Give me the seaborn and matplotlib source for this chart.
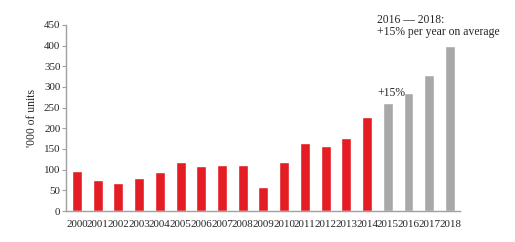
import pandas as pd
import seaborn as sns
import matplotlib.pyplot as plt

years = [str(y) for y in range(2000, 2019)]
units = [97, 75, 67, 79, 94, 118, 109, 111, 111, 57,
         118, 164, 157, 176, 227, 261, 286, 329, 400]
forecast_from = "2015"

red = "#e41d24"
grey = "#a8a8a8"

df = pd.DataFrame({"year": years, "units": units})
palette = {y: (grey if y >= forecast_from else red) for y in years}

sns.set_style("white")
plt.rcParams["font.family"] = ["Liberation Serif", "DejaVu Serif"]
plt.rcParams["font.size"] = 7.9

fig = plt.figure(figsize=(5.15, 2.42), dpi=100)
ax = fig.add_axes([0.128, 0.128, 0.765, 0.769])

sns.barplot(data=df, x="year", y="units", hue="year", palette=palette,
            legend=False, width=0.48, ax=ax, saturation=1)

ax.set_xlim(-0.53, 18.48)
ax.set_ylim(0, 450)
ax.set_yticks(range(0, 451, 50))
ax.set_xlabel("")
ax.set_ylabel("'000 of units", fontsize=8.4)

for s in ["top", "right"]:
    ax.spines[s].set_visible(False)
for s in ["left", "bottom"]:
    ax.spines[s].set_color("#a0a0a0")
    ax.spines[s].set_linewidth(1)
ax.tick_params(axis="y", left=True, length=3, width=0.8, color="#a0a0a0", pad=1)
ax.tick_params(axis="x", bottom=False, pad=3)

ax.text(14.5, 285, "+15%", fontsize=8.4, va="center", ha="left")
ax.text(14.5, 448, "2016 — 2018:\n+15% per year on average", fontsize=8.4,
        va="center", ha="left", linespacing=0.95)

fig.savefig("out.png", dpi=100)
